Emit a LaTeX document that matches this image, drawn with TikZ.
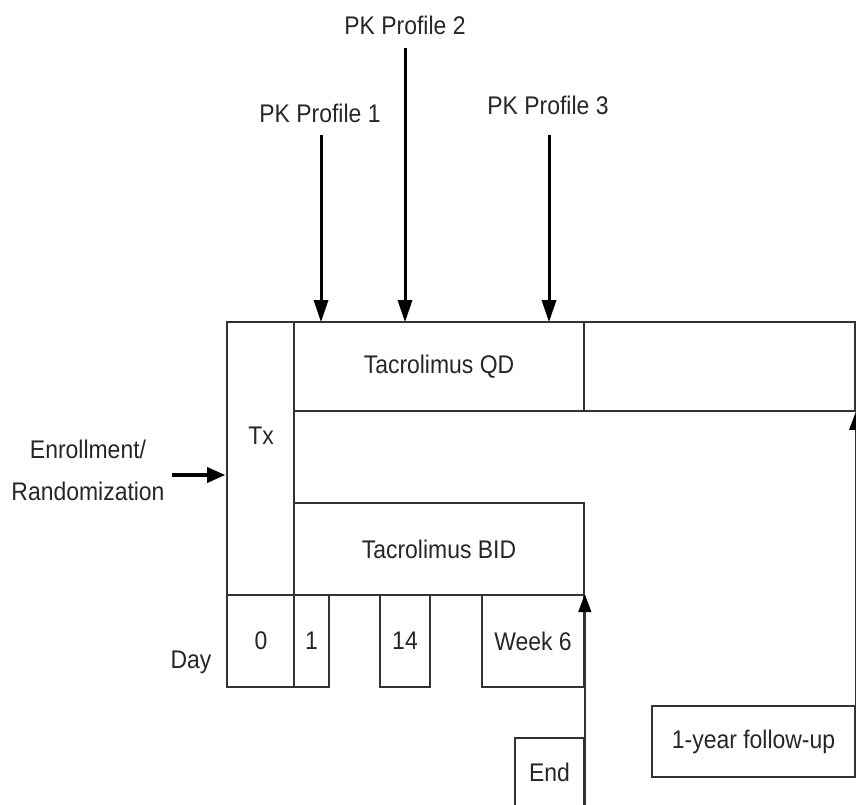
\documentclass[tikz,border=0pt]{standalone}
\usepackage{fontspec}
\setmainfont{Liberation Sans}[FakeStretch=0.9]
\usetikzlibrary{arrows.meta}
\begin{document}
\begin{tikzpicture}[x=1pt,y=-1pt,
  box/.style={draw=black!80, line width=1.6pt, inner sep=0pt},
  lbl/.style={inner sep=0pt, font=\fontsize{25.5}{30}\selectfont, text=black!85},
  pkarrow/.style={line width=3pt, -{Triangle[length=22pt,width=14pt]}},
  enarrow/.style={line width=3.4pt, -{Triangle[length=18pt,width=15pt]}},
  uparrow/.style={line width=1.6pt, draw=black!80, -{Triangle[length=18pt,width=13pt,fill=black,color=black]}}]
\useasboundingbox (0,0) rectangle (856,805);
\clip (0,0) rectangle (856,805);
% boxes
\node[box, minimum width=67pt, minimum height=273pt] (tx) at (260.5,458.5) {};
\node[box, minimum width=290pt, minimum height=89pt] (qd) at (439,366.5) {};
\node[box, minimum width=271pt, minimum height=89pt] (rb) at (719.5,366.5) {};
\node[box, minimum width=290pt, minimum height=92pt] (bid) at (439,549) {};
\node[box, minimum width=67pt, minimum height=92pt] (d0) at (260.5,641) {};
\node[box, minimum width=35pt, minimum height=92pt] (d1) at (311.5,641) {};
\node[box, minimum width=50pt, minimum height=92pt] (d14) at (405,641) {};
\node[box, minimum width=102pt, minimum height=92pt] (w6) at (533,641) {};
\node[box, minimum width=69pt, minimum height=92pt] (end) at (549.5,784) {};
\node[box, minimum width=203pt, minimum height=71pt] (fu) at (753.5,741.5) {};
% texts
\node[lbl] at (439,367) {Tacrolimus QD};
\node[lbl] at (439,549) {Tacrolimus BID};
\node[lbl] at (261,436) {Tx};
\node[lbl] at (261,641) {0};
\node[lbl] at (311.5,641) {1};
\node[lbl] at (405,641) {14};
\node[lbl] at (533,641) {Week 6};
\node[lbl] at (549.5,772) {End};
\node[lbl] at (753.5,742) {1-year follow-up};
\node[lbl] at (191,662) {Day};
\node[lbl, align=center] (enr) at (88,470) {Enrollment/\\[12pt]Randomization};
\node[lbl] (pk1) at (320,113) {PK Profile 1};
\node[lbl] (pk2) at (405,25) {PK Profile 2};
\node[lbl] (pk3) at (548,105) {PK Profile 3};
% arrows
\coordinate (a1) at (321,135);
\coordinate (a2) at (405,48);
\coordinate (a3) at (549,135);
\draw[pkarrow] (a1) -- ([yshift=-1pt]a1 |- qd.north);
\draw[pkarrow] (a2) -- ([yshift=-1pt]a2 |- qd.north);
\draw[pkarrow] (a3) -- ([yshift=-1pt]a3 |- qd.north);
\coordinate (e1) at (172,475);
\draw[enarrow] (e1) -- ([xshift=-1pt]e1 -| tx.west);
\draw[uparrow] (end.south east) -- (w6.north east);
\draw[uparrow] (fu.north east) -- (rb.south east);
\end{tikzpicture}
\end{document}
